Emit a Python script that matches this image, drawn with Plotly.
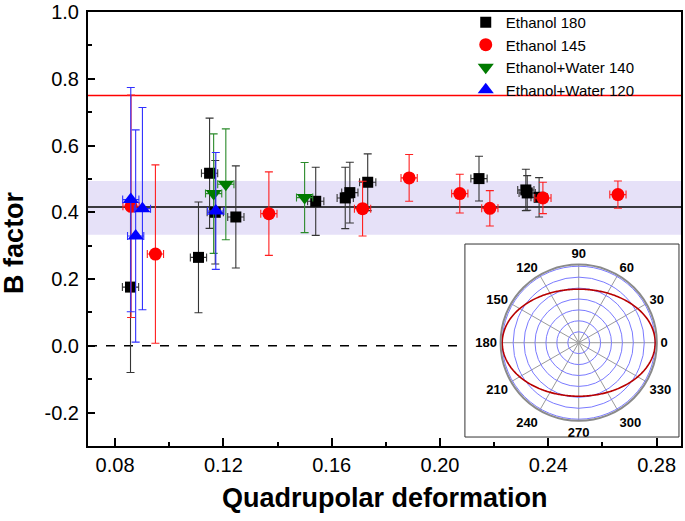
import numpy as np
import plotly.graph_objects as go

# ---------------- data ----------------
eth180_x = [0.0857, 0.1108, 0.1149, 0.1170, 0.1246, 0.1541, 0.1650, 0.1667, 0.1733, 0.2144, 0.2317, 0.2322, 0.2366]
eth180_y = [0.176, 0.265, 0.517, 0.400, 0.386, 0.433, 0.443, 0.459, 0.490, 0.501, 0.467, 0.458, 0.445]
eth180_ey = [0.256, 0.166, 0.165, 0.155, 0.153, 0.102, 0.092, 0.091, 0.085, 0.067, 0.062, 0.052, 0.059]
eth180_ex = [0.003, 0.003, 0.003, 0.003, 0.003, 0.003, 0.003, 0.003, 0.003, 0.003, 0.003, 0.003, 0.003]

eth145_x = [0.0859, 0.0949, 0.1368, 0.1714, 0.1886, 0.2073, 0.2184, 0.2380, 0.2657]
eth145_y = [0.418, 0.275, 0.396, 0.411, 0.503, 0.456, 0.412, 0.443, 0.453]
eth145_ey = [0.333, 0.267, 0.125, 0.082, 0.070, 0.058, 0.053, 0.047, 0.041]
eth145_ex = [0.003, 0.003, 0.003, 0.003, 0.003, 0.003, 0.003, 0.003, 0.003]

ew140_x = [0.1164, 0.1209, 0.1500]
ew140_y = [0.456, 0.484, 0.444]
ew140_ey = [0.179, 0.166, 0.105]
ew140_ex = [0.003, 0.003, 0.003]

ew120_x = [0.0858, 0.0876, 0.0901, 0.1172]
ew120_y = [0.438, 0.329, 0.411, 0.404]
ew120_ey = [0.336, 0.318, 0.303, 0.175]
ew120_ex = [0.003, 0.003, 0.003, 0.003]

series_names = ["Ethanol 180", "Ethanol 145", "Ethanol+Water 140", "Ethanol+Water 120"]

mean_b = 0.416
band_low = 0.333
band_high = 0.494
red_level = 0.75
zero_level = 0.0

x_tick_vals = [0.08, 0.12, 0.16, 0.20, 0.24, 0.28]
x_tick_labels = ["0.08", "0.12", "0.16", "0.20", "0.24", "0.28"]
y_tick_vals = [-0.2, 0.0, 0.2, 0.4, 0.6, 0.8, 1.0]
y_tick_labels = ["-0.2", "0.0", "0.2", "0.4", "0.6", "0.8", "1.0"]

polar_angle_ticks = [0, 30, 60, 90, 120, 150, 180, 210, 240, 270, 300, 330]
polar_angle_labels = ["0", "30", "60", "90", "120", "150", "180", "210", "240", "270", "300", "330"]
ellipse_semi_major = 7.0
ellipse_semi_minor = 4.9
polar_rings = [1, 2, 3, 4, 5, 6, 7]

# ---------------- figure ----------------
FONT = "Liberation Sans, Arial, sans-serif"
fig = go.Figure()

def add_series(x, y, ex, ey, name, color, barcolor, symbol, size):
    fig.add_trace(go.Scatter(
        x=x, y=y, mode="markers", name=name,
        marker=dict(color=color, symbol=symbol, size=size, line=dict(width=0)),
        error_y=dict(type="data", array=ey, visible=True, color=barcolor, thickness=1.1, width=4),
        error_x=dict(type="data", array=ex, visible=True, color=barcolor, thickness=1.1, width=4),
        xaxis="x", yaxis="y",
    ))

add_series(eth180_x, eth180_y, eth180_ex, eth180_ey, series_names[0], "#000000", "#353535", "square", 11)
add_series(eth145_x, eth145_y, eth145_ex, eth145_ey, series_names[1], "#ff0000", "#ff2020", "circle", 13)
add_series(ew140_x, ew140_y, ew140_ex, ew140_ey, series_names[2], "#007a00", "#2a8a2a", "triangle-down", 14)
add_series(ew120_x, ew120_y, ew120_ex, ew120_ey, series_names[3], "#0000ff", "#3030ff", "triangle-up", 14)

# inset polar (ellipse shape)
theta = np.arange(0, 361, 1.0)
t = np.deg2rad(theta)
a, b = ellipse_semi_major, ellipse_semi_minor
r = a * b / np.sqrt((b * np.cos(t)) ** 2 + (a * np.sin(t)) ** 2)
fig.add_trace(go.Scatterpolar(
    r=r, theta=theta, mode="lines", line=dict(color="#b80000", width=1.6),
    showlegend=False, subplot="polar", hoverinfo="skip",
))

shapes = [
    dict(type="rect", xref="paper", yref="y", x0=0, x1=1, y0=band_low, y1=band_high,
         fillcolor="#e6e1f8", line=dict(width=0), layer="below"),
    dict(type="line", xref="paper", yref="y", x0=0, x1=1, y0=mean_b, y1=mean_b,
         line=dict(color="black", width=1.5), layer="below"),
    dict(type="line", xref="paper", yref="y", x0=0, x1=1, y0=red_level, y1=red_level,
         line=dict(color="#ff0000", width=1.5), layer="below"),
    dict(type="line", xref="paper", yref="y", x0=0, x1=1, y0=zero_level, y1=zero_level,
         line=dict(color="black", width=1.5, dash="dash"), layer="below"),
    dict(type="rect", xref="paper", yref="paper", x0=0.6356, x1=0.9966, y0=0.0207, y1=0.4654,
         fillcolor="white", line=dict(color="#333333", width=1), layer="below"),
]

annotations = [
    dict(text="<b>Quadrupolar deformation</b>", xref="paper", yref="paper", x=0.5, y=-0.12,
         xanchor="center", yanchor="middle", showarrow=False, font=dict(size=27, family=FONT)),
    dict(text="<b>B factor</b>", xref="paper", yref="paper", x=-0.125, y=0.47,
         xanchor="center", yanchor="middle", showarrow=False, textangle=-90,
         font=dict(size=27, family=FONT)),
]

fig.update_layout(
    width=685, height=521,
    margin=dict(l=88, r=4, t=12, b=75, autoexpand=False),
    paper_bgcolor="white", plot_bgcolor="white",
    font=dict(family=FONT, color="black"),
    shapes=shapes,
    annotations=annotations,
    showlegend=True,
    legend=dict(x=0.637, y=1.014, xanchor="left", yanchor="top", bgcolor="rgba(0,0,0,0)",
                font=dict(size=15, family=FONT), tracegroupgap=0, itemsizing="trace"),
    xaxis=dict(
        range=[0.07, 0.289], showline=True, linewidth=2, linecolor="black", mirror=True,
        showgrid=False, zeroline=False, automargin=False, ticklabeloverflow="allow",
        tickvals=x_tick_vals, ticktext=x_tick_labels,
        ticks="inside", ticklen=8, tickwidth=1.5, tickcolor="black",
        minor=dict(dtick=0.02, tick0=0.08, ticks="inside", ticklen=4, tickwidth=1.5, tickcolor="black"),
        tickfont=dict(size=20, family=FONT),
    ),
    yaxis=dict(
        range=[-0.3, 1.0], showline=True, linewidth=2, linecolor="black", mirror=True,
        showgrid=False, zeroline=False, automargin=False, ticklabeloverflow="allow",
        tickvals=y_tick_vals, ticktext=y_tick_labels, ticklabelstandoff=3,
        ticks="inside", ticklen=7, tickwidth=1.5, tickcolor="black",
        minor=dict(dtick=0.1, tick0=0.0, ticks="inside", ticklen=4, tickwidth=1.5, tickcolor="black"),
        tickfont=dict(size=20, family=FONT),
    ),
    polar=dict(
        domain=dict(x=[0.695, 0.96], y=[0.058, 0.418]),
        bgcolor="white",
        radialaxis=dict(range=[0, 7.15], tickvals=polar_rings, showticklabels=False, ticks="",
                        gridcolor="#7a7aff", gridwidth=1, showline=False),
        angularaxis=dict(tickvals=polar_angle_ticks, ticktext=polar_angle_labels,
                         direction="counterclockwise", rotation=0,
                         gridcolor="#9a9a9a", gridwidth=1, linecolor="#8a8a8a", linewidth=2,
                         ticks="", tickfont=dict(size=13, family=FONT, weight="bold", color="black")),
    ),
)

# remove the default page margin so the figure sits at the window's top-left corner
fig.write_html("out.html", config={"displayModeBar": False},
               post_script="document.body.style.margin='0';")
